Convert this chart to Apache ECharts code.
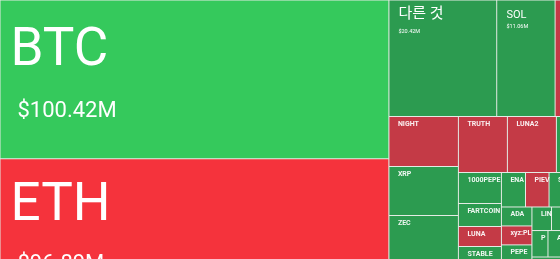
<!DOCTYPE html>
<html><head><meta charset="utf-8">
<script src="https://cdn.jsdelivr.net/npm/echarts@6/dist/echarts.min.js"></script>
<style>html,body{margin:0;padding:0;background:#fff;}#c{width:560px;height:259px;}</style>
</head><body><div id="c"></div>
<script>
// ---- Data (USD millions). Each block is one nested slice of the treemap ----
const leftNames = ['BTC', 'ETH'];
const leftValues = [100.42, 96.89];
const leftSides = [1, -1];

const row1Names = ['다른 것', 'SOL', 'HYPE'];
const row1Values = [20.42, 11.06, 10.40];
const row1Sides = [1, 1, -1];

const col2Names = ['NIGHT', 'XRP', 'ZEC', 'DOGE'];
const col2Values = [5.65, 5.54, 5.48, 5.42];
const col2Sides = [-1, 1, 1, 1];

const row3Names = ['TRUTH', 'LUNA2', 'BNB'];
const row3Values = [4.46, 4.46, 4.88];
const row3Sides = [-1, -1, 1];

const col4Names = ['1000PEPE', 'FARTCOIN', 'LUNA', 'STABLE', 'TRX'];
const col4Values = [2.17, 1.61, 1.40, 1.40, 3.18];
const col4Sides = [1, 1, -1, 1, 1];

const row5Names = ['ENA', 'PIEVERSE', 'SUI', 'WLD'];
const row5Values = [1.35, 1.32, 1.68, 1.74];
const row5Sides = [1, -1, 1, 1];

const col6Names = ['ADA', 'xyz:PLTR', 'PEPE', 'WIF'];
const col6Values = [0.94, 0.94, 0.97, 2.36];
const col6Sides = [1, -1, 1, 1];

const row7Names = ['LINK', 'LTC', 'AAVE'];
const row7Values = [0.75, 0.75, 1.49];
const row7Sides = [1, 1, 1];

const row8Names = ['PUMP', 'AVAX', 'ASTER'];
const row8Values = [0.69, 0.86, 1.81];
const row8Sides = [1, 1, 1];

const lastNames = ['TAO'];
const lastValues = [6.98];
const lastSides = [1];

// ---- Styles ----
const FONT = "Roboto, 'Noto Sans CJK KR', sans-serif";
const COLORS = {upBig: '#35c95c', downBig: '#f5333c', up: '#2c9b50', down: '#c43a46'};
const labelTiers = {
  xl: {pos: [0, 0], padding: [3, 0, 0, 10],
       n: {fontSize: 53, lineHeight: 96, fontFamily: FONT, color: '#fff'},
       v: {fontSize: 22, lineHeight: 24, fontFamily: FONT, color: '#fff', padding: [0, 0, 0, 7]}},
  l:  {pos: [0, 0], padding: [3, 0, 0, 9],
       n: {fontSize: 15, lineHeight: 22, fontFamily: FONT, color: '#fff'},
       v: {fontSize: 5.5, lineHeight: 11.4, fontFamily: FONT, color: '#fff'}},
  m:  {pos: [0, 0], padding: [6, 0, 0, 9.3],
       n: {fontSize: 11, lineHeight: 17, fontFamily: FONT, color: '#fff'},
       v: {fontSize: 5.5, lineHeight: 6.8, fontFamily: FONT, color: '#fff'}},
  s:  {pos: [3, 0], padding: [2.5, 0, 0, 5.5],
       n: {fontSize: 7, lineHeight: 9, fontWeight: 'bold', fontFamily: FONT, color: 'rgba(255,255,255,0.92)'},
       v: {fontSize: 5, lineHeight: 7, fontFamily: FONT, color: '#fff'}}
};
const labelTweaks = {ETH: {n: {lineHeight: 88}, v: {lineHeight: 28}}};

function leaf(name, value, side) {
  const tier = value >= 50 ? 'xl' : value >= 15 ? 'l' : value >= 10 ? 'm' : 's';
  const big = value >= 50;
  const color = side > 0 ? (big ? COLORS.upBig : COLORS.up) : (big ? COLORS.downBig : COLORS.down);
  const t = labelTiers[tier];
  const tw = labelTweaks[name] || {};
  return {
    name: name, value: value, tier: tier,
    itemStyle: {color: color},
    label: {position: t.pos, padding: t.padding,
            rich: {n: Object.assign({}, t.n, tw.n || {}), v: Object.assign({}, t.v, tw.v || {})}}
  };
}

const blocks = [
  [leftNames, leftValues, leftSides],
  [row1Names, row1Values, row1Sides],
  [col2Names, col2Values, col2Sides],
  [row3Names, row3Values, row3Sides],
  [col4Names, col4Values, col4Sides],
  [row5Names, row5Values, row5Sides],
  [col6Names, col6Values, col6Sides],
  [row7Names, row7Values, row7Sides],
  [row8Names, row8Values, row8Sides],
  [lastNames, lastValues, lastSides]
];

let data = null;
for (let i = blocks.length - 1; i >= 0; i--) {
  const b = blocks[i];
  const children = b[0].map((nm, j) => leaf(nm, b[1][j], b[2][j]));
  if (data) children.push(data);
  data = i === 0 ? children : {name: '', children: children, itemStyle: {borderWidth: 0, gapWidth: 0}};
}

const chart = echarts.init(document.getElementById('c'), null, {renderer: 'canvas'});
chart.setOption({
  animation: false,
  series: [{
    type: 'treemap',
    left: 0, top: 0, width: 610, height: 312,
    roam: false, nodeClick: false, sort: false,
    visibleMin: 0,
    breadcrumb: {show: false},
    squareRatio: 0.5 * (1 + Math.sqrt(5)),
    itemStyle: {borderWidth: 0.5, borderColor: '#e4ebe4', gapWidth: 0},
    levels: [{itemStyle: {borderWidth: 0, gapWidth: 0}}],
    upperLabel: {show: false},
    label: {
      show: true, position: 'insideTopLeft', distance: 0,
      overflow: 'truncate', ellipsis: '',
      fontFamily: FONT, color: '#fff',
      formatter: function (p) {
        const d = p.data || {};
        if (d.tier === 's') return '{n|' + p.name + '}';
        return '{n|' + p.name + '}\n{v|$' + Number(p.value).toFixed(2) + 'M}';
      }
    },
    data: data
  }]
});
</script>
</body></html>
